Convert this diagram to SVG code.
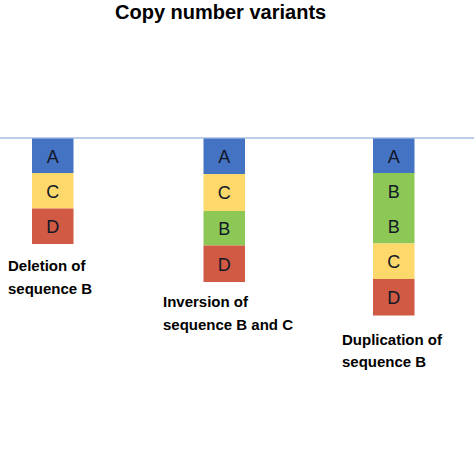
<svg xmlns="http://www.w3.org/2000/svg" width="474" height="474" viewBox="0 0 474 474">
<style>
.bg{fill:#ffffff}
.a{fill:#4573C4}
.b{fill:#8DC755}
.c{fill:#FDD86A}
.d{fill:#D05A44}
.seg{font-family:"Liberation Sans",Arial,sans-serif;font-size:18px;fill:#111827;text-anchor:middle}
.lbl{font-family:"Liberation Sans",Arial,sans-serif;font-size:15px;font-weight:bold;fill:#000000}
.title{font-family:"Liberation Sans",Arial,sans-serif;font-size:20px;font-weight:bold;fill:#000000}
.base{stroke:#A9BEE3;stroke-width:1.5;fill:none}
</style>
<rect class="bg" x="0" y="0" width="474" height="474"/>
<text class="title" x="115" y="19">Copy number variants</text>
<g id="connectors">
<line class="base" x1="0" y1="138" x2="474" y2="138"/>
</g>
<g id="deletion">
<rect class="a" x="32" y="138.5" width="41.5" height="34.5"/>
<rect class="c" x="32" y="173" width="41.5" height="35.5"/>
<rect class="d" x="32" y="208.5" width="41.5" height="35.5"/>
<text class="seg" x="52.7" y="162.5">A</text>
<text class="seg" x="52.7" y="197.5">C</text>
<text class="seg" x="52.7" y="233">D</text>
<text class="lbl" x="8" y="271">Deletion of</text>
<text class="lbl" x="8" y="294">sequence B</text>
</g>
<g id="inversion">
<rect class="a" x="203.5" y="138.5" width="41.5" height="35.5"/>
<rect class="c" x="203.5" y="174" width="41.5" height="37"/>
<rect class="b" x="203.5" y="211" width="41.5" height="34.5"/>
<rect class="d" x="203.5" y="245.5" width="41.5" height="36.5"/>
<text class="seg" x="224.2" y="163">A</text>
<text class="seg" x="224.2" y="199">C</text>
<text class="seg" x="224.2" y="234.5">B</text>
<text class="seg" x="224.2" y="270.5">D</text>
<text class="lbl" x="163" y="306.5">Inversion of</text>
<text class="lbl" x="163" y="330">sequence B and C</text>
</g>
<g id="duplication">
<rect class="a" x="373" y="138.5" width="41.5" height="34.5"/>
<rect class="b" x="373" y="173" width="41.5" height="70.5"/>
<rect class="c" x="373" y="243.5" width="41.5" height="35.5"/>
<rect class="d" x="373" y="279" width="41.5" height="36.5"/>
<text class="seg" x="393.7" y="162.5">A</text>
<text class="seg" x="393.7" y="197.5">B</text>
<text class="seg" x="393.7" y="233">B</text>
<text class="seg" x="393.7" y="268">C</text>
<text class="seg" x="393.7" y="304">D</text>
<text class="lbl" x="342" y="345">Duplication of</text>
<text class="lbl" x="342" y="367">sequence B</text>
</g>
</svg>
